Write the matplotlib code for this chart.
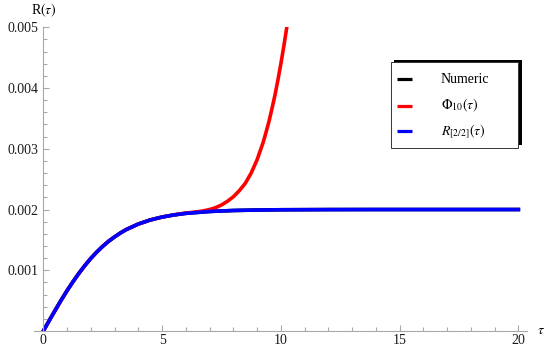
import matplotlib
matplotlib.use('Agg')
import matplotlib.pyplot as plt
from matplotlib.patches import Rectangle
from matplotlib.lines import Line2D
from matplotlib.ticker import MultipleLocator

plt.rcParams['font.family'] = ['Liberation Serif', 'DejaVu Serif']
plt.rcParams['mathtext.fontset'] = 'stix'

# data (R in units of 1e-3)
tau_num = [0, 0.25, 0.5, 0.75, 1, 1.25, 1.5, 1.75, 2, 2.25, 2.5, 2.75, 3, 3.25, 3.5,
           4, 4.5, 5, 5.5, 6, 7, 8, 9, 10, 12, 14, 16, 18, 20]
r_num = [0, 0.173, 0.342, 0.507, 0.665, 0.812, 0.951, 1.078, 1.196, 1.30, 1.394, 1.478,
         1.55, 1.615, 1.672, 1.761, 1.828, 1.876, 1.911, 1.937, 1.968, 1.984, 1.992,
         1.996, 1.999, 2.0, 2.0, 2.0, 2.0]
r_pade = list(r_num)

tau_phi = [0, 0.25, 0.5, 0.75, 1, 1.25, 1.5, 1.75, 2, 2.25, 2.5, 2.75, 3, 3.25, 3.5,
           4, 4.5, 5, 5.5, 6, 6.25, 6.5, 6.75, 7, 7.25, 7.5, 7.75, 8, 8.25, 8.5, 8.75,
           9, 9.25, 9.375, 9.5, 9.625, 9.75, 9.875, 10, 10.125, 10.25]
r_phi = [0, 0.173, 0.342, 0.507, 0.665, 0.812, 0.951, 1.078, 1.196, 1.30, 1.394, 1.478,
         1.55, 1.615, 1.672, 1.761, 1.828, 1.876, 1.912, 1.943, 1.952, 1.963, 1.979,
         2.0, 2.03, 2.075, 2.135, 2.21, 2.31, 2.43, 2.6, 2.82, 3.1, 3.27, 3.45, 3.66,
         3.88, 4.13, 4.4, 4.69, 5.0]

xticks = [0, 5, 10, 15, 20]
yticks = [0.001, 0.002, 0.003, 0.004, 0.005]
ytick_labels = ['0.001', '0.002', '0.003', '0.004', '0.005']
labels = ['Numeric', r'$\Phi_{10}(\tau)$', r'$R_{[2/2]}(\tau)$']
colors = ['black', (1, 0, 0), (0, 0, 1)]

W, H = 550, 354
fig = plt.figure(figsize=(W / 100, H / 100), dpi=100)


def fx(px):
    return px / W


def fy(py):
    return 1 - py / H


ax = fig.add_axes([fx(34.3), fy(331), fx(526.7) - fx(34.3), fy(27.3) - fy(331)])
ax.patch.set_alpha(0)

ax.plot(tau_num, [v * 1e-3 for v in r_num], color=colors[0], lw=2.6)
ax.plot(tau_phi, [v * 1e-3 for v in r_phi], color=colors[1], lw=2.6)
ax.plot(tau_num, [v * 1e-3 for v in r_pade], color=colors[2], lw=2.6)

ax.set_xlim(-0.38, 20.35)
ax.set_ylim(0, 0.005)

grey = '#a8a8a8'
ax.spines['top'].set_visible(False)
ax.spines['right'].set_visible(False)
ax.spines['left'].set_position(('data', 0))
for s in ['left', 'bottom']:
    ax.spines[s].set_color(grey)
    ax.spines[s].set_linewidth(0.8)

ax.set_xticks(xticks)
ax.set_yticks(yticks)
ax.set_yticklabels(ytick_labels)
ax.xaxis.set_minor_locator(MultipleLocator(1))
ax.yaxis.set_minor_locator(MultipleLocator(0.0002))
ax.tick_params(which='both', direction='in', color=grey, width=0.8, labelsize=10,
               labelcolor='#1a1a1a')
ax.tick_params(which='major', length=4.5)
ax.tick_params(which='minor', length=2.8)
ax.tick_params(axis='x', pad=2.5)
ax.tick_params(axis='y', pad=3.5)

fig.text(fx(44), fy(10), r'R$(\tau)$', ha='center', va='center', fontsize=10)
fig.text(fx(541), fy(330), r'$\tau$', ha='center', va='center', fontsize=10)

# legend box with shadow
fig.patches.append(Rectangle((fx(393.7), fy(145)), fx(521.7) - fx(393.7), fy(59.5) - fy(145),
                             transform=fig.transFigure, facecolor='black', edgecolor='none',
                             zorder=5))
fig.patches.append(Rectangle((fx(390.7), fy(147.7)), fx(518.3) - fx(390.7), fy(62.3) - fy(147.7),
                             transform=fig.transFigure, facecolor='white', edgecolor='#333333',
                             linewidth=0.7, zorder=6))
rows = [79.3, 105.7, 130.7]
for lab, col, ry in zip(labels, colors, rows):
    fig.lines.append(Line2D([fx(396.7), fx(411.7)], [fy(ry), fy(ry)], transform=fig.transFigure,
                            color=col, lw=2.3, solid_capstyle='butt', zorder=7))
    fig.text(fx(441), fy(ry), lab, ha='left', va='center', fontsize=10, zorder=7)

fig.savefig('out.png', dpi=100)
